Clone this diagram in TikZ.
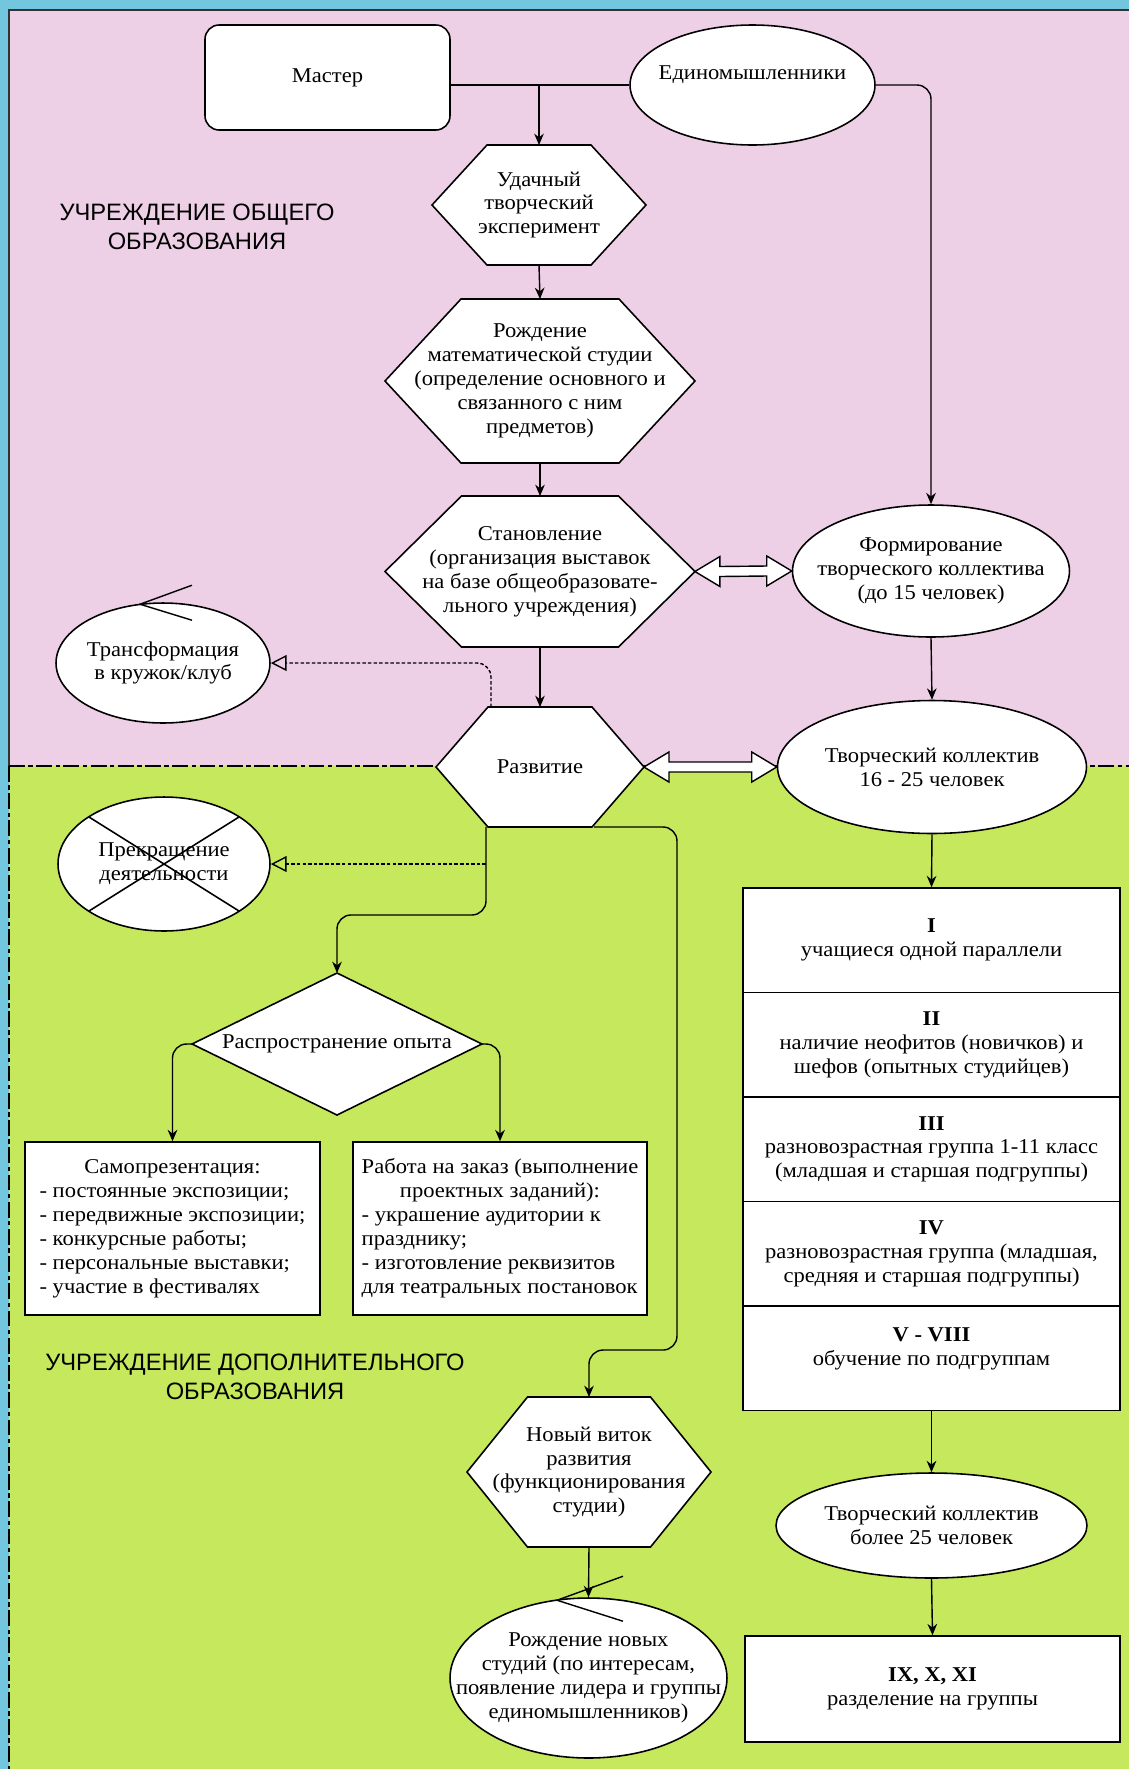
\documentclass[tikz,border=0pt]{standalone}
\usepackage{fontspec}
\setmainfont{Liberation Serif}[FakeStretch=1.07]
\newfontfamily\zonefont{Liberation Sans}
\usetikzlibrary{calc,arrows.meta,shapes.geometric}
\definecolor{frameblue}{HTML}{72C7DF}
\definecolor{schoolpink}{HTML}{EED0E6}
\definecolor{extragreen}{HTML}{C6E85C}
\def\bodysize{\fontsize{12}{13.6}\selectfont}
% hexagon: name, centre, half width : half height : half top edge, text
\def\hexa(#1)(#2,#3)(#4:#5:#6)#7{
	\draw[fill=white, line width=0.9pt] (#2-#4,#3) -- (#2-#6,#3-#5) -- (#2+#6,#3-#5) -- (#2+#4,#3) -- (#2+#6,#3+#5) -- (#2-#6,#3+#5) -- cycle;
	\node[txt, minimum width={#4*0.04cm}, minimum height={#5*0.04cm}] (#1) at (#2,#3) {#7};
}
% hollow double arrow between two anchors
\def\blockarrow(#1)(#2){
	\draw[fill=white, line width=0.8pt] (#1) -- ++(25,-15) -- ++(0,10) -- ($(#2)+(-25,-5)$) -- ++(0,-10) -- (#2) -- ++(-25,15) -- ++(0,-10) -- ($(#1)+(25,5)$) -- ++(0,10) -- cycle;
}
\tikzset{
	txt/.style={font=\bodysize, align=center, inner sep=0pt, outer sep=0pt},
	box/.style={draw, fill=white, line width=0.9pt, font=\bodysize, align=center, inner sep=0pt},
	cell/.style={box, minimum width=7.54cm, minimum height=2.09cm},
	oval/.style={ellipse, draw, fill=white, line width=0.9pt, inner sep=0pt},
	arr/.style={-{Stealth[length=6.5pt,width=5.5pt]}, line width=0.8pt, rounded corners=8pt},
	dashline/.style={-{Triangle[open,length=9pt,width=9pt]}, line width=0.8pt, dash pattern=on 2pt off 1.2pt, rounded corners=8pt},
	zone/.style={font=\zonefont\fontsize{13.5}{16.5}\selectfont, align=center},
}

\begin{document}
\begin{tikzpicture}[x=0.02cm, y=-0.02cm]
		%%%%% BACKGROUND %%%%%
		\useasboundingbox (0,0) rectangle (1129,1769);
		\fill[frameblue] (0,0) rectangle (1129,1769);
		\fill[schoolpink] (9,10) rectangle (1129,766);
		\fill[extragreen] (9,766) rectangle (1129,1769);
		\draw[line width=1.2pt, black!80] (9,766) -- (9,10) -- (1129,10);
		\draw[line width=1.6pt, dash pattern=on 9pt off 2pt on 2.5pt off 2pt] (9,766) -- (1129,766);
		\draw[line width=1.6pt, dash pattern=on 9pt off 2pt on 2.5pt off 2pt] (9,766) -- (9,1769);
		
		\node[zone] (zoneA) at (197,227) {УЧРЕЖДЕНИЕ ОБЩЕГО\\ОБРАЗОВАНИЯ};
		\node[zone] (zoneB) at (255,1377) {УЧРЕЖДЕНИЕ ДОПОЛНИТЕЛЬНОГО\\ОБРАЗОВАНИЯ};
		
		%%%%% START %%%%%
		\node[box, rounded corners=8pt, minimum width=4.9cm, minimum height=2.1cm] (mast) at (327.5,77.5) {Мастер};
		\node[oval, minimum width=4.9cm, minimum height=2.4cm, label={[txt,yshift=0.2cm]center:{Единомышленники}}] (edin) at (752.5,85) {};
		
		\hexa(udach)(539,205)(107:60:52){Удачный\\творческий\\эксперимент}
		\hexa(rozh)(540,381)(155:82:79){Рождение\\математической студии\\(определение основного и\\связанного с ним\\предметов)}
		\hexa(stan)(540,571.5)(155:75.5:78.5){Становление\\(организация выставок\\на базе общеобразовате-\\льного учреждения)}
		\hexa(razv)(540,767)(104:60:52){Развитие}
		\hexa(novy)(589,1472)(122:75:61.5){Новый виток\\развития\\(функционирования\\студии)}
		
		\node[oval, minimum width=5.54cm, minimum height=2.64cm, label={[txt]center:{Формирование\\творческого коллектива\\(до 15 человек)}}] (form) at (931,571) {};
		\node[oval, minimum width=6.18cm, minimum height=2.66cm, label={[txt]center:{Творческий коллектив\\16 - 25 человек}}] (tk16) at (932,767) {};
		\node[oval, minimum width=4.28cm, minimum height=2.4cm, label={[txt]center:{Трансформация\\в кружок/клуб}}] (trans) at (163,663) {};
		\node[oval, minimum width=4.24cm, minimum height=2.68cm, label={[txt]center:{Прекращение\\деятельности}}] (pr) at (164,864) {};
		\draw[line width=0.9pt] ($(pr)+(-75,-47)$) -- ($(pr)+(75,47)$);
		\draw[line width=0.9pt] ($(pr)+(75,-47)$) -- ($(pr)+(-75,47)$);
		
		\node[diamond, aspect=2, draw, fill=white, line width=0.9pt, txt, minimum width=5.8cm, minimum height=2.84cm] (dia) at (337,1044) {Распространение опыта};
		\node[box, minimum width=5.9cm, minimum height=3.46cm] (samo) at (172.5,1228.5) {\begin{tabular}{@{}l@{}}\multicolumn{1}{@{}c@{}}{Самопрезентация:}\\- постоянные экспозиции;\\- передвижные экспозиции;\\- конкурсные работы;\\- персональные выставки;\\- участие в фестивалях\end{tabular}};
		\node[box, minimum width=5.88cm, minimum height=3.46cm] (rab) at (500,1228.5) {\begin{tabular}{@{}l@{}}\multicolumn{1}{@{}c@{}}{Работа на заказ (выполнение}\\\multicolumn{1}{@{}c@{}}{проектных заданий):}\\- украшение аудитории к\\празднику;\\- изготовление реквизитов\\для театральных постановок\end{tabular}};
		
		\node[oval, minimum width=5.54cm, minimum height=3.2cm, label={[txt]center:{Рождение новых\\студий (по интересам,\\появление лидера и группы\\единомышленников)}}] (novye) at (588.5,1678) {};
		\draw[line width=0.8pt] ($(trans.north)+(29,-17)$) -- ($(trans.north)+(-23,2)$) -- ($(trans.north)+(29,18)$);
		\draw[line width=0.8pt] ($(novye.north)+(34.5,-21)$) -- ($(novye.north)+(-31.5,3)$) -- ($(novye.north)+(34.5,24)$);
		
		\node[cell] (cell1) at (931.5,940.3) {\textbf{I}\\учащиеся одной параллели};
		\node[cell] (cell2) at (931.5,1044.8) {\textbf{II}\\наличие неофитов (новичков) и\\шефов (опытных студийцев)};
		\node[cell] (cell3) at (931.5,1149.3) {\textbf{III}\\разновозрастная группа 1-11 класс\\(младшая и старшая подгруппы)};
		\node[cell] (cell4) at (931.5,1253.8) {\textbf{IV}\\разновозрастная группа (младшая,\\средняя и старшая подгруппы)};
		\node[cell] (cell5) at (931.5,1358.3) {\textbf{V - VIII}\\обучение по подгруппам\\\mbox{}};
		\node[oval, minimum width=6.22cm, minimum height=2.1cm, label={[txt]center:{Творческий коллектив\\более 25 человек}}] (big25) at (931.5,1525.5) {};
		\node[box, minimum width=7.5cm, minimum height=2.12cm] (grp) at (932.5,1689) {\textbf{IX, X, XI}\\разделение на группы};
		
		%%%%% CONNECTORS %%%%%
		\coordinate (rzT) at ($(razv.north)+(-49,0)$);
		\coordinate (rzL) at ($(razv.south)+(-54,0)$);
		\coordinate (rzR) at ($(razv.south)+(54,0)$);
		
		\draw[line width=0.8pt] (mast.east |- edin.west) -- (edin.west);
		\draw[arr] (udach.north |- edin.west) -- (udach.north);
		\draw[arr] (edin.east) -| (form.north);
		\draw[arr] (udach.south) -- (rozh.north);
		\draw[arr] (rozh.south) -- (stan.north);
		\draw[arr] (stan.south) -- (razv.north);
		\draw[arr] (form.south) -- (tk16.north);
		\blockarrow(stan.east)(form.west)
		\blockarrow(razv.east)(tk16.west)
		
		\draw[dashline] (rzT) |- (trans.east);
		\draw[arr] (rzL) -- ++(0,88) -| (dia.north);
		\draw[dashline, rounded corners=0pt] (pr.east -| rzL) -- (pr.east);
		\draw[arr] (rzR) -- ++(83,0) |- ($(novy.north)+(0,-47)$) -- (novy.north);
		\draw[arr] (dia.west) -| (samo.north);
		\draw[arr] (dia.east) -| (rab.north);
		\draw[arr] (novy.south) -- (novye.north);
		
		\draw[arr] (tk16.south) -- (cell1.north);
		\draw[arr] (cell5.south) -- (big25.north);
		\draw[arr] (big25.south) -- (grp.north);
		%%%%% END %%%%%
\end{tikzpicture}
\end{document}
